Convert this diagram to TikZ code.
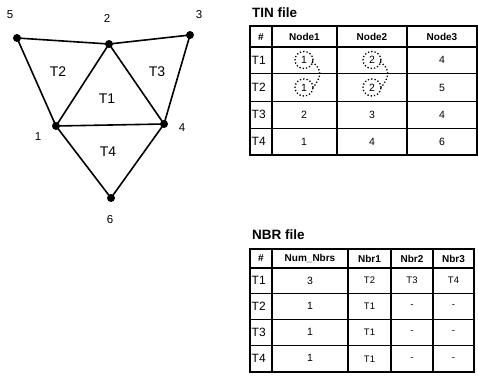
\documentclass[tikz,border=0pt]{standalone}
\usepackage{fontspec}
\setmainfont{Liberation Sans}
\begin{document}
\begin{tikzpicture}[x=1pt,y=-1pt,
  vtx/.style={circle,fill=black,inner sep=0pt,minimum size=8pt},
  edge/.style={line width=1.6pt},
  vlab/.style={font=\fontsize{11.5}{11.5}\selectfont,inner sep=0pt},
  tlab/.style={font=\fontsize{14}{14}\selectfont,inner sep=0pt},
  title/.style={font=\fontsize{13.5}{13.5}\selectfont\bfseries,inner sep=0pt,anchor=west},
  hd/.style={font=\fontsize{10}{10}\selectfont\bfseries,inner sep=0pt},
  rl/.style={font=\fontsize{12}{12}\selectfont,inner sep=0pt,anchor=west},
  cell/.style={font=\fontsize{10.5}{10.5}\selectfont,inner sep=0pt},
  scell/.style={font=\fontsize{9.5}{9.5}\selectfont,inner sep=0pt},
  outer/.style={line width=1.8pt},
  colsep/.style={line width=1.6pt},
  rowsep/.style={line width=0.8pt},
  dotc/.style={dotted,line width=1.3pt}
]
\useasboundingbox (0,0) rectangle (478,378);
% ---------- graph ----------
\node[vtx] (n5) at (17,38) {};
\node[vtx] (n2) at (109,44) {};
\node[vtx] (n3) at (190,35) {};
\node[vtx] (n1) at (56,126) {};
\node[vtx] (n4) at (164,124) {};
\node[vtx] (n6) at (111,198) {};
\draw[edge] (n5.center) -- (n2.center) -- (n3.center);
\draw[edge] (n5.center) -- (n1.center) -- (n2.center) -- (n4.center) -- (n3.center);
\draw[edge] (n1.center) -- (n4.center);
\draw[edge] (n1.center) -- (n6.center) -- (n4.center);
\node[vlab] (l5) at (10,15) {5};
\node[vlab] (l2) at (107,18) {2};
\node[vlab] (l3) at (199,15) {3};
\node[vlab] (l1) at (38,137) {1};
\node[vlab] (l4) at (182,128) {4};
\node[vlab] (l6) at (110,220) {6};
\node[tlab] (t2) at (58,72) {T2};
\node[tlab] (t3) at (157,72) {T3};
\node[tlab] (t1) at (107,99) {T1};
\node[tlab] (t4) at (108,152) {T4};
% ---------- TIN table ----------
\node[title] (tintitle) at (252,13) {TIN file};
\draw[rowsep] (250,73) -- (477,73) (250,101) -- (477,101) (250,128) -- (477,128);
\draw[colsep] (250,47) -- (477,47);
\draw[colsep] (272,26) -- (272,155) (337,26) -- (337,155) (407,26) -- (407,155);
\draw[outer] (250,26) rectangle (477,155);
\node[hd] (th0) at (261,37) {\#};
\node[hd] (th1) at (304.5,37) {Node1};
\node[hd] (th2) at (372,37) {Node2};
\node[hd] (th3) at (442,37) {Node3};
\node[rl] (tr1) at (251.5,60) {T1};
\node[rl] (tr2) at (251.5,87.5) {T2};
\node[rl] (tr3) at (251.5,114.5) {T3};
\node[rl] (tr4) at (251.5,141.5) {T4};
\node[cell] (a11) at (304,60) {1};
\node[cell] (a12) at (372,60) {2};
\node[cell] (a13) at (442,60) {4};
\node[cell] (a21) at (304,87.5) {1};
\node[cell] (a22) at (372,87.5) {2};
\node[cell] (a23) at (442,87.5) {5};
\node[cell] (a31) at (304,114.5) {2};
\node[cell] (a32) at (372,114.5) {3};
\node[cell] (a33) at (442,114.5) {4};
\node[cell] (a41) at (304,141.5) {1};
\node[cell] (a42) at (372,141.5) {4};
\node[cell] (a43) at (442,141.5) {6};
% dotted circles
\draw[dotc] (a11) ellipse (9pt and 8.5pt);
\draw[dotc] (a21) ellipse (9pt and 8.5pt);
\draw[dotc] (a12) ellipse (9pt and 8.5pt);
\draw[dotc] (a22) ellipse (9pt and 8.5pt);
\draw[dotc] ([shift={(8,2)}]a11.center) .. controls ([shift={(17,8)}]a11.center) and ([shift={(19,-12)}]a21.center) .. ([shift={(9,0)}]a21.center);
\draw[dotc] ([shift={(8,2)}]a12.center) .. controls ([shift={(17,8)}]a12.center) and ([shift={(19,-12)}]a22.center) .. ([shift={(9,0)}]a22.center);
% ---------- NBR table ----------
\node[title] (nbrtitle) at (252,235) {NBR file};
\draw[rowsep] (250,293) -- (474,293) (250,319) -- (474,319) (250,345) -- (474,345);
\draw[colsep] (250,268) -- (474,268);
\draw[colsep] (272,249) -- (272,372) (348,249) -- (348,372) (391,249) -- (391,372) (433,249) -- (433,372);
\draw[outer] (250,249) rectangle (474,372);
\node[hd] (nh0) at (261,258.5) {\#};
\node[hd] (nh1) at (310,258.5) {Num\_Nbrs};
\node[hd] (nh2) at (369.5,258.5) {Nbr1};
\node[hd] (nh3) at (412,258.5) {Nbr2};
\node[hd] (nh4) at (453.5,258.5) {Nbr3};
\node[rl] (nr1) at (251.5,280.5) {T1};
\node[rl] (nr2) at (251.5,306) {T2};
\node[rl] (nr3) at (251.5,332) {T3};
\node[rl] (nr4) at (251.5,358.5) {T4};
\node[cell] (b11) at (310,280.5) {3};
\node[scell] (b12) at (369.5,280.5) {T2};
\node[scell] (b13) at (412,280.5) {T3};
\node[scell] (b14) at (453.5,280.5) {T4};
\node[cell] (b21) at (310,306) {1};
\node[scell] (b22) at (369.5,306.5) {T1};
\node[scell] (b23) at (412,306.5) {-};
\node[scell] (b24) at (453.5,306.5) {-};
\node[cell] (b31) at (310,332) {1};
\node[scell] (b32) at (369.5,332.5) {T1};
\node[scell] (b33) at (412,332.5) {-};
\node[scell] (b34) at (453.5,332.5) {-};
\node[cell] (b41) at (310,358) {1};
\node[scell] (b42) at (369.5,359) {T1};
\node[scell] (b43) at (412,359) {-};
\node[scell] (b44) at (453.5,359) {-};
\end{tikzpicture}
\end{document}
